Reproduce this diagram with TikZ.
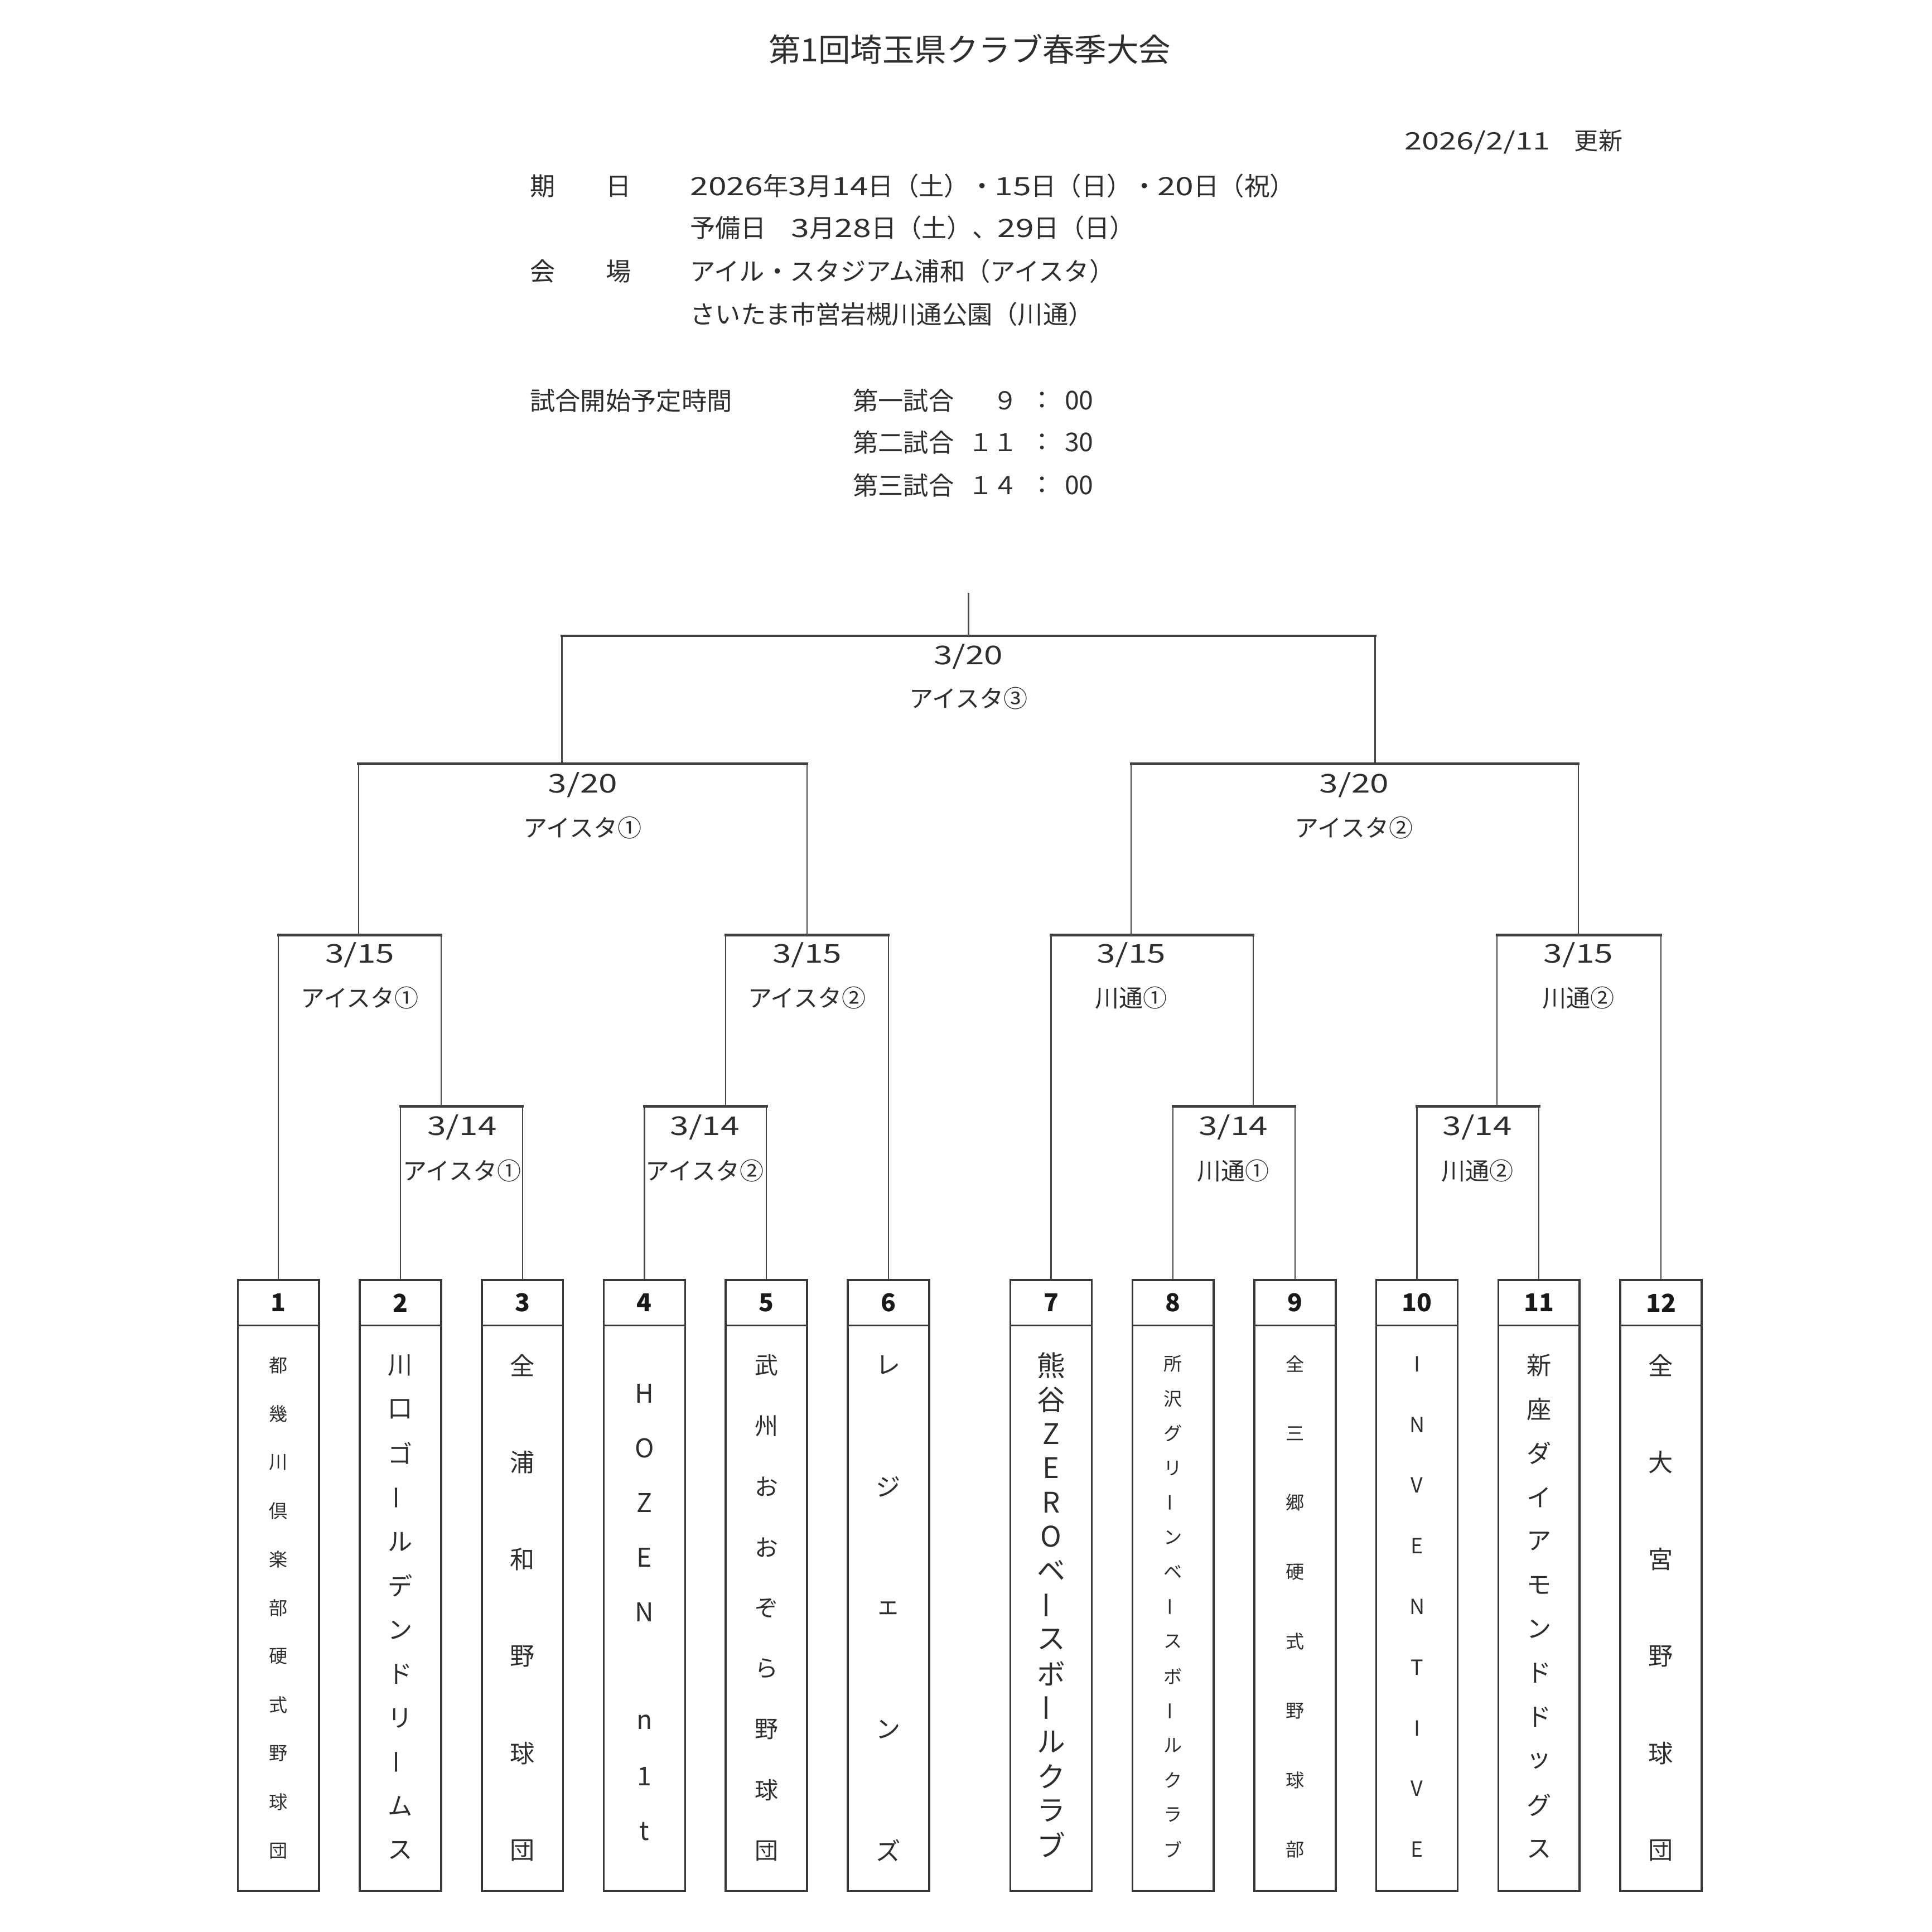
\documentclass[tikz,border=0pt]{standalone}
\usepackage{fontspec}
\usepackage{graphicx}
\setmainfont{Noto Sans CJK JP}
\newfontfamily\dgfont{Noto Sans CJK JP}[FakeStretch=1.3]
\newcommand\dg[1]{{\dgfont #1}}
\newcommand\fs[1]{\fontsize{#1}{#1}\selectfont}
\newcommand\vb{\rotatebox[origin=c]{90}{ー}}
\newcommand\vname[6]{%
  \foreach \ch [count=\idx from 0] in {#6}{%
    \node[chr, font=\fs{#5}] (#1c\idx) at (#2,{#3+\idx*#4}) {\ch};
  }}
\tikzset{
  txt/.style={inner sep=0pt, text=black!82},
  chr/.style={inner sep=0pt, text=black!82},
  hline/.style={line width=2.2pt, draw=black!75, line cap=rect},
  vline/.style={line width=1pt, draw=black!72},
  tbox/.style={draw=black!78, line width=1.6pt, minimum width=66pt, minimum height=496pt, anchor=north, inner sep=0pt},
  nbox/.style={draw=black!78, line width=1.6pt, minimum width=66pt, minimum height=37pt, anchor=north, inner sep=0pt, text=black!90, font=\fs{20}\bfseries},
  mdate/.style={txt, font=\fs{21}\dgfont},
  mvenue/.style={txt, font=\fs{19.5}},
  hd/.style={txt, font=\fs{20.5}, anchor=west},
}
\begin{document}
\begin{tikzpicture}[x=1pt,y=-1pt]
\path[use as bounding box, fill=white] (0,0) rectangle (1568,1568);

% title and header
\node[txt, font=\fs{26}] (title) at (787,40) {第1回埼玉県クラブ春季大会};
\node[txt, font=\fs{19.5}, anchor=east] (upd) at (1317,115) {\dg{2026/2/11}　更新};
\node[hd] (lb1) at (430,151) {期　　日};
\node[hd] (d1) at (560,151) {\dg{2026}年\dg{3}月\dg{14}日（土）・\dg{15}日（日）・\dg{20}日（祝）};
\node[hd] (d2) at (560,185) {予備日　\dg{3}月\dg{28}日（土）、\dg{29}日（日）};
\node[hd] (lb2) at (430,220) {会　　場};
\node[hd] (v1) at (560,220) {アイル・スタジアム浦和（アイスタ）};
\node[hd] (v2) at (560,255) {さいたま市営岩槻川通公園（川通）};
\node[hd] (lb3) at (430,325) {試合開始予定時間};
\node[hd] (g1) at (692,325) {第一試合};
\node[hd] (g2) at (692,359) {第二試合};
\node[hd] (g3) at (692,394) {第三試合};
\node[txt, font=\fs{20}, anchor=east] (h1) at (826,325) {９};
\node[txt, font=\fs{20}, anchor=east] (h2) at (826,359) {１１};
\node[txt, font=\fs{20}, anchor=east] (h3) at (826,394) {１４};
\node[txt, font=\fs{20}] (c1) at (846,325) {：};
\node[txt, font=\fs{20}] (c2) at (846,359) {：};
\node[txt, font=\fs{20}] (c3) at (846,394) {：};
\node[txt, font=\fs{21}, anchor=west] (m1) at (864,325) {00};
\node[txt, font=\fs{21}, anchor=west] (m2) at (864,359) {30};
\node[txt, font=\fs{21}, anchor=west] (m3) at (864,394) {00};

% team boxes
\foreach \n/\x in {1/226,2/325,3/424,4/523,5/622,6/721,7/853,8/952,9/1051,10/1150,11/1249,12/1348}{
  \node[tbox] (t\n) at (\x,1038) {};
  \node[nbox] (n\n) at (\x,1038) {\n};
}

% team names
\vname{t1}{226}{1108}{39.4}{15}{都,幾,川,倶,楽,部,硬,式,野,球,団}
\vname{t2}{325}{1108}{35.8}{20}{川,口,ゴ,\vb,ル,デ,ン,ド,リ,\vb,ム,ス}
\vname{t3}{424}{1108}{78.8}{20}{全,浦,和,野,球,団}
\vname{t4}{523}{1131}{44.4}{21}{H,O,Z,E,N,{},n,1,t}
\vname{t5}{622}{1108}{49.25}{19}{武,州,お,お,ぞ,ら,野,球,団}
\vname{t6}{721}{1108}{98.5}{20}{レ,ジ,ェ,ン,ズ}
\vname{t7}{853}{1108}{27.8}{23}{熊,谷,Z,E,R,O,ベ,\vb,ス,ボ,\vb,ル,ク,ラ,ブ}
\vname{t8}{952}{1107}{28.15}{15}{所,沢,グ,リ,\vb,ン,ベ,\vb,ス,ボ,\vb,ル,ク,ラ,ブ}
\vname{t9}{1051}{1107}{56.3}{15}{全,三,郷,硬,式,野,球,部}
\vname{t10}{1150}{1107}{49.25}{17}{I,N,V,E,N,T,I,V,E}
\vname{t11}{1249}{1108}{35.7}{20}{新,座,ダ,イ,ア,モ,ン,ド,ド,ッ,グ,ス}
\vname{t12}{1348}{1108}{78.8}{20}{全,大,宮,野,球,団}

% junction coordinates
\coordinate (r1a-l) at (325,898); \coordinate (r1a-r) at (424,898); \coordinate (r1a-j) at (358,898);
\coordinate (r1b-l) at (523,898); \coordinate (r1b-r) at (622,898); \coordinate (r1b-j) at (589,898);
\coordinate (r1c-l) at (952,898); \coordinate (r1c-r) at (1051,898); \coordinate (r1c-j) at (1017,898);
\coordinate (r1d-l) at (1150,898); \coordinate (r1d-r) at (1249,898); \coordinate (r1d-j) at (1215,898);
\coordinate (qa-l) at (226,759); \coordinate (qa-r) at (358,759); \coordinate (qa-j) at (291,759);
\coordinate (qb-l) at (589,759); \coordinate (qb-r) at (721,759); \coordinate (qb-j) at (655,759);
\coordinate (qc-l) at (853,759); \coordinate (qc-r) at (1017,759); \coordinate (qc-j) at (918,759);
\coordinate (qd-l) at (1215,759); \coordinate (qd-r) at (1348,759); \coordinate (qd-j) at (1281,759);
\coordinate (sa-l) at (291,620); \coordinate (sa-r) at (655,620); \coordinate (sa-j) at (456,620);
\coordinate (sb-l) at (918,620); \coordinate (sb-r) at (1281,620); \coordinate (sb-j) at (1116,620);
\coordinate (f-l) at (456,516); \coordinate (f-r) at (1116,516); \coordinate (f-j) at (786,516);
\coordinate (top) at (786,481);

% verticals
\draw[vline] (t1.north) -- (qa-l);
\draw[vline] (t2.north) -- (r1a-l);
\draw[vline] (t3.north) -- (r1a-r);
\draw[vline] (t4.north) -- (r1b-l);
\draw[vline] (t5.north) -- (r1b-r);
\draw[vline] (t6.north) -- (qb-r);
\draw[vline] (t7.north) -- (qc-l);
\draw[vline] (t8.north) -- (r1c-l);
\draw[vline] (t9.north) -- (r1c-r);
\draw[vline] (t10.north) -- (r1d-l);
\draw[vline] (t11.north) -- (r1d-r);
\draw[vline] (t12.north) -- (qd-r);
\draw[vline] (r1a-j) -- (qa-r);
\draw[vline] (r1b-j) -- (qb-l);
\draw[vline] (r1c-j) -- (qc-r);
\draw[vline] (r1d-j) -- (qd-l);
\draw[vline] (qa-j) -- (sa-l);
\draw[vline] (qb-j) -- (sa-r);
\draw[vline] (qc-j) -- (sb-l);
\draw[vline] (qd-j) -- (sb-r);
\draw[vline] (sa-j) -- (f-l);
\draw[vline] (sb-j) -- (f-r);
\draw[vline] (f-j) -- (top);

% horizontals
\foreach \m in {r1a,r1b,r1c,r1d,qa,qb,qc,qd,sa,sb,f}{
  \draw[hline] (\m-l) -- (\m-r);
}

% match labels
\node[mdate] (fd) at (786,533) {3/20};
\node[mvenue] (fv) at (786,567) {アイスタ③};
\node[mdate] (sad) at (473,637) {3/20};
\node[mvenue] (sav) at (473,672) {アイスタ①};
\node[mdate] (sbd) at (1099,637) {3/20};
\node[mvenue] (sbv) at (1099,672) {アイスタ②};
\node[mdate] (qad) at (292,775) {3/15};
\node[mvenue] (qav) at (292,810) {アイスタ①};
\node[mdate] (qbd) at (655,775) {3/15};
\node[mvenue] (qbv) at (655,810) {アイスタ②};
\node[mdate] (qcd) at (918,775) {3/15};
\node[mvenue] (qcv) at (918,810) {川通①};
\node[mdate] (qdd) at (1281,775) {3/15};
\node[mvenue] (qdv) at (1281,810) {川通②};
\node[mdate] (rad) at (375,915) {3/14};
\node[mvenue] (rav) at (375,950) {アイスタ①};
\node[mdate] (rbd) at (572,915) {3/14};
\node[mvenue] (rbv) at (572,950) {アイスタ②};
\node[mdate] (rcd) at (1001,915) {3/14};
\node[mvenue] (rcv) at (1001,950) {川通①};
\node[mdate] (rdd) at (1199,915) {3/14};
\node[mvenue] (rdv) at (1199,950) {川通②};
\end{tikzpicture}
\end{document}
